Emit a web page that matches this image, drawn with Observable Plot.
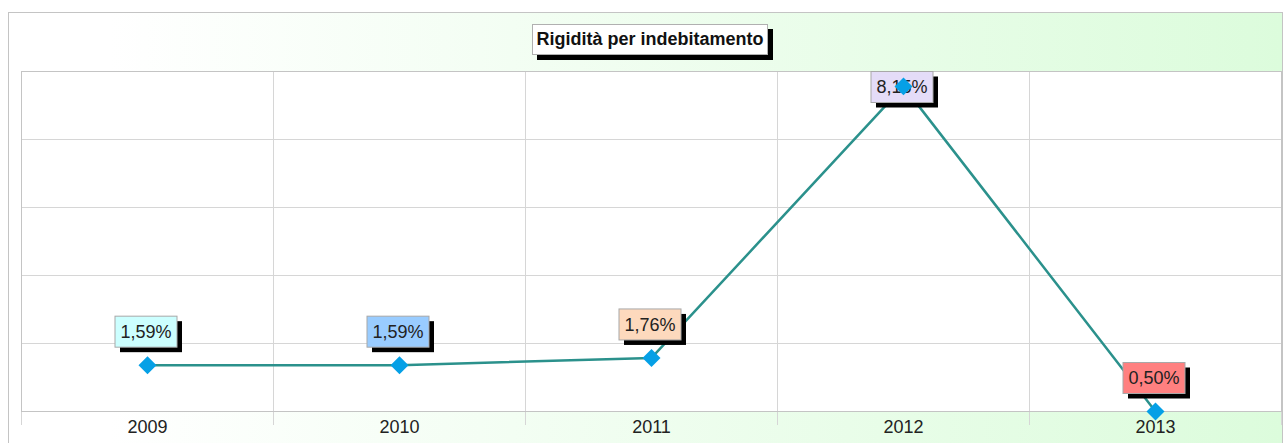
<!DOCTYPE html>
<html><head><meta charset="utf-8">
<script src="https://cdn.jsdelivr.net/npm/d3@7"></script>
<script src="https://cdn.jsdelivr.net/npm/@observablehq/plot@0.6"></script>
<style>
body{margin:0;background:#fff;}
#wrap{position:relative;width:1284px;height:443px;overflow:hidden;font-family:"Liberation Sans",Arial,sans-serif;}
#bg{position:absolute;left:8px;top:12px;width:1273px;height:460px;border:1px solid #c4c4c4;background:linear-gradient(to right,#ffffff 8%,#dcfcdc 100%);}
#plot{position:absolute;left:0;top:0;}
#title{position:absolute;left:532px;top:24px;width:236px;height:31px;box-sizing:border-box;border:1px solid #b0b0b0;background:#fff;box-shadow:5px 5px 0 #000;font-weight:bold;font-size:18px;line-height:29px;text-align:center;color:#111;white-space:nowrap;}
</style>
</head><body>
<div id="wrap"><div id="bg"></div><div id="plot"></div><div id="title">Rigidità per indebitamento</div></div>
<script>
const years = [2009, 2010, 2011, 2012, 2013];
const values = [1.59, 1.59, 1.76, 8.15, 0.50];
const labelFills = ["#ccffff", "#99ccff", "#fdd9bd", "#e4dcf8", "#ff8080"];
const yTicks = [0.5, 2.1, 3.7, 5.3, 6.9, 8.5];
const xBounds = [2008.5, 2009.5, 2010.5, 2011.5, 2012.5, 2013.5];

const data = years.map((y, i) => ({year: y, value: values[i], label: values[i].toFixed(2).replace(".", ",") + "%", fill: labelFills[i]}));

const labelMark = Plot.dot(data, {
  x: "year", y: "value",
  render: (index, scales, vals, dimensions) => {
    const g = d3.create("svg:g");
    const top = dimensions.marginTop;
    const w = 62, h = 31;
    for (const i of index) {
      const cx = vals.x[i] - 1, py = vals.y[i];
      const cy = Math.max(py - 33, top + 0.5 + h / 2);
      const x0 = cx - w / 2, y0 = cy - h / 2;
      g.append("rect").attr("x", x0 + 5).attr("y", y0 + 5).attr("width", w).attr("height", h).attr("fill", "#000");
      g.append("rect").attr("x", x0).attr("y", y0).attr("width", w).attr("height", h)
        .attr("fill", data[i].fill).attr("stroke", "#a8a8a8");
      g.append("text").attr("x", cx).attr("y", cy).attr("dy", "0.36em")
        .attr("text-anchor", "middle").attr("font-size", 18)
        .attr("font-family", "'Liberation Sans', Arial, sans-serif")
        .attr("fill", "#222").text(data[i].label);
    }
    return g.node();
  }
});

const chart = Plot.plot({
  width: 1284, height: 443,
  marginTop: 71, marginRight: 3, marginBottom: 32, marginLeft: 21,
  style: {background: "transparent", fontFamily: "'Liberation Sans', Arial, sans-serif", color: "#222"},
  x: {type: "linear", domain: [2008.5, 2013.5], axis: null, label: null},
  y: {domain: [0.5, 8.5], axis: null, label: null},
  marks: [
    Plot.frame({fill: "white"}),
    Plot.ruleY(yTicks, {stroke: "#d6d6d6"}),
    Plot.ruleX(xBounds, {stroke: "#d6d6d6", insetBottom: -14}),
    Plot.ruleY([0.5], {stroke: "#bdbdbd"}),
    Plot.frame({stroke: "#c4c4c4"}),
    Plot.axisX(years, {tickSize: 0, tickPadding: 9, fontSize: 18, label: null, tickFormat: d => String(d)}),
    Plot.line(data, {x: "year", y: "value", stroke: "#2b918c", strokeWidth: 2.5}),
    labelMark,
    Plot.dot(data, {x: "year", y: "value", symbol: "diamond2", r: 8.1, fill: "#05a0e6", stroke: "none"})
  ]
});
document.getElementById("plot").appendChild(chart);
</script>
</body></html>
